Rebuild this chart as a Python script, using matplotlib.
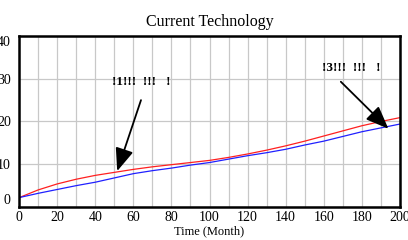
import matplotlib
matplotlib.use("Agg")
import matplotlib.pyplot as plt
import matplotlib.transforms as mtransforms

# data
months = [0, 10, 20, 30, 40, 50, 60, 70, 80, 90, 100, 110, 120, 130, 140, 150, 160, 170, 180, 190, 200]
red = [2.2, 4.0, 5.4, 6.5, 7.4, 8.1, 8.8, 9.4, 9.9, 10.4, 10.9, 11.6, 12.4, 13.3, 14.3, 15.4, 16.6, 17.8, 19.0, 20.0, 20.9]
blue = [2.2, 3.2, 4.1, 5.0, 5.8, 6.8, 7.8, 8.5, 9.1, 9.8, 10.4, 11.2, 12.0, 12.7, 13.5, 14.5, 15.4, 16.5, 17.6, 18.5, 19.4]
xticks = [0, 20, 40, 60, 80, 100, 120, 140, 160, 180, 200]
yticks = [0, 10, 20, 30, 40]

plt.rcParams['font.family'] = ['Liberation Serif', 'DejaVu Serif']

fig = plt.figure(figsize=(4.08, 2.4), dpi=100)
ax = fig.add_axes([0.047, 0.1375, 0.933, 0.7125])

ax.plot(months, red, color='#ff2020', lw=0.9)
ax.plot(months, blue, color='#2020ff', lw=0.9)

ax.set_xlim(0, 200)
ax.set_ylim(0, 40)
ax.set_xticks(range(0, 201, 10))
ax.set_xticklabels([str(t) if t in xticks else '' for t in range(0, 201, 10)], fontsize=10)
ax.set_yticks(yticks)
ylabs = ax.set_yticklabels([str(t) for t in yticks], fontsize=10)
ylabs[0].set_va('bottom')
ylabs[-1].set_va('top')
# middle labels sit a little above their grid lines
up = mtransforms.ScaledTranslation(0, 3 / 100, fig.dpi_scale_trans)
for lab in ylabs[1:-1]:
    lab.set_transform(lab.get_transform() + up)
ax.tick_params(axis='x', length=0, pad=3)
ax.tick_params(axis='y', length=0, pad=6)
ax.grid(True, color='#c8c8c8', lw=0.9)
for s in ax.spines.values():
    s.set_linewidth(1.8)

ax.set_title('Current Technology', fontsize=11.5, pad=7)
ax.set_xlabel('Time (Month)', fontsize=9, labelpad=1)

ax.text(49, 29.3, '!1!!!  !!!   !', fontsize=9.5, fontweight='bold', ha='left', va='center')
ax.text(159, 32.6, '!3!!!  !!!   !', fontsize=9.5, fontweight='bold', ha='left', va='center')

arrow = dict(arrowstyle='-|>,head_width=0.4,head_length=1.0', color='black',
             lw=1.3, shrinkA=0, shrinkB=0, mutation_scale=14)
ax.annotate('', xy=(51.5, 8.4), xytext=(64, 25), arrowprops=arrow)
ax.annotate('', xy=(194, 18.3), xytext=(169, 29.3), arrowprops=arrow)

fig.savefig('out.png', dpi=100)
